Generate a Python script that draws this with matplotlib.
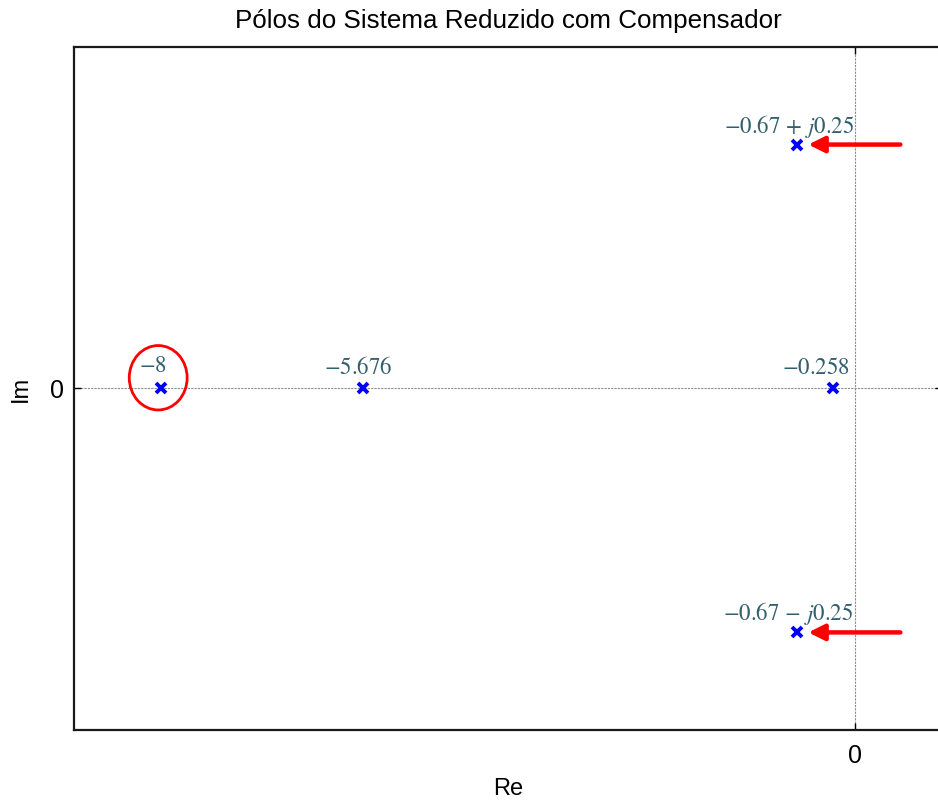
import numpy as np
import matplotlib
matplotlib.use("Agg")
import matplotlib.pyplot as plt
from matplotlib.patches import Ellipse

# polos do sistema reduzido com compensador
pole_re = [-8.0, -5.676, -0.258, -0.67, -0.67]
pole_im = [0.0, 0.0, 0.0, 0.25, -0.25]
pole_labels = [r"$-8$", r"$-5.676$", r"$-0.258$",
               r"$-0.67\,+\,j0.25$", r"$-0.67\,-\,j0.25$"]

# setas vermelhas apontando para os polos dominantes
arrow_y = [0.25, -0.25]
arrow_tail_x = 0.52
arrow_head_x = -0.54

plt.rcParams['font.family'] = ['Liberation Sans', 'DejaVu Sans']
plt.rcParams['mathtext.fontset'] = 'stix'

fig = plt.figure(figsize=(9.38, 8.02), dpi=100)
ax = fig.add_axes([0.0789, 0.0898, 0.9254, 0.8516])

# linhas dos eixos (estilo pzmap)
ax.axhline(0, color='#8c8c8c', lw=0.8, ls=(0, (2, 1)), zorder=1)
ax.axvline(0, color='#8c8c8c', lw=0.8, ls=(0, (2, 1)), zorder=1)

ax.plot(pole_re, pole_im, 'x', color='blue', ms=7.5, mew=2.8, zorder=3)

# rotulos dos polos (deslocamento em pixels)
offsets = [(-8, 23), (-4, 21), (-17, 21), (-8, 18), (-9, 19)]
txt_color = '#33606e'
for x, y, lab, off in zip(pole_re, pole_im, pole_labels, offsets):
    ax.annotate(lab, xy=(x, y), xytext=off, textcoords='offset pixels',
                ha='center', va='center', fontsize=16.5, color=txt_color)

for y in arrow_y:
    ax.annotate('', xy=(arrow_head_x, y), xytext=(arrow_tail_x, y),
                arrowprops=dict(arrowstyle='-|>', color='red', lw=3.2,
                                mutation_scale=24, shrinkA=0, shrinkB=0))

ax.add_patch(Ellipse((-8.03, 0.011), 0.667, 0.066, fill=False,
                     edgecolor='red', lw=2, zorder=4))

ax.set_xlim(-9, 1)
ax.set_ylim(-0.35, 0.35)
ax.set_xticks([0])
ax.set_yticks([0])
ax.tick_params(direction='in', top=True, right=True, length=5, width=1,
               labelsize=18)
ax.tick_params(axis='x', pad=10)
ax.tick_params(axis='y', pad=7)
for s in ax.spines.values():
    s.set_linewidth(1.6)
    s.set_color('#1a1a1a')

ax.set_title('Pólos do Sistema Reduzido com Compensador', fontsize=18.7, pad=14)
ax.set_xlabel('Re', fontsize=17, labelpad=7)
ax.set_ylabel('Im', fontsize=17, labelpad=13)

fig.savefig('out.png', dpi=100)
